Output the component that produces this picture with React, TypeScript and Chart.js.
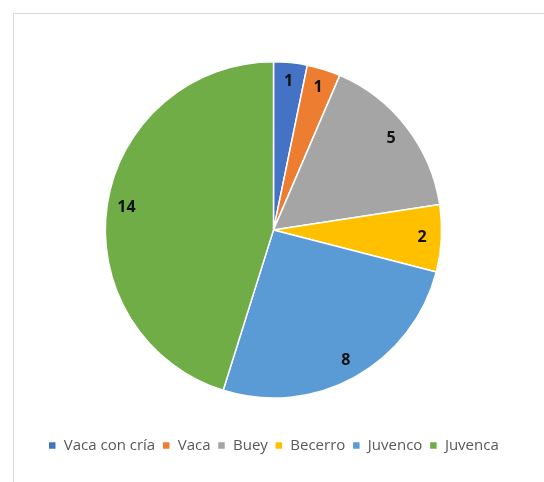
import React, { useEffect, useRef } from "react";
import { Chart, registerables } from "chart.js";

Chart.register(...registerables);

const categories = ["Vaca con cría", "Vaca", "Buey", "Becerro", "Juvenco", "Juvenca"];
const counts = [1, 1, 5, 2, 8, 14];
const colors = ["#4472C4", "#ED7D31", "#A5A5A5", "#FFC000", "#5B9BD5", "#70AD47"];

const sliceLabels = {
  id: "sliceLabels",
  afterDatasetsDraw(chart: any) {
    const ctx = chart.ctx;
    const meta = chart.getDatasetMeta(0);
    ctx.save();
    ctx.font = "bold 16px 'Open Sans', sans-serif";
    ctx.fillStyle = "#111111";
    ctx.textAlign = "center";
    ctx.textBaseline = "middle";
    meta.data.forEach((arc: any, i: number) => {
      const p = arc.getProps(["x", "y", "startAngle", "endAngle", "outerRadius"], true);
      const mid = (p.startAngle + p.endAngle) / 2;
      const r = p.outerRadius * 0.885;
      ctx.fillText(String(chart.data.datasets[0].data[i]), p.x + Math.cos(mid) * r, p.y + Math.sin(mid) * r);
    });
    ctx.restore();
  },
};

export default function App() {
  const ref = useRef<HTMLCanvasElement | null>(null);
  useEffect(() => {
    if (!ref.current) return;
    const chart = new Chart(ref.current, {
      type: "pie",
      data: {
        labels: categories,
        datasets: [
          {
            data: counts,
            backgroundColor: colors,
            borderColor: "#ffffff",
            borderWidth: 1.5,
          },
        ],
      },
      options: {
        responsive: false,
        animation: false,
        layout: { padding: { top: 61, left: 20, right: 17, bottom: 19 } },
        plugins: {
          tooltip: { enabled: false },
          legend: {
            position: "bottom",
            title: {
              display: true,
              text: " ",
              font: { size: 1 },
              padding: { top: 31, bottom: 0 },
            },
            labels: {
              boxWidth: 8,
              boxHeight: 8,
              padding: 7,
              color: "#595959",
              font: { family: "'Open Sans', sans-serif", size: 15 },
            },
          },
        },
      },
      plugins: [sliceLabels],
    });
    return () => chart.destroy();
  }, []);
  return (
    <>
      <div
        style={{
          position: "absolute",
          left: 13,
          top: 13,
          width: 531,
          height: 469,
          boxSizing: "border-box",
          borderTop: "1px solid #d9d9d9",
          borderLeft: "1px solid #d9d9d9",
        }}
      />
      <canvas
        ref={ref}
        width={544}
        height={482}
        style={{ position: "absolute", left: 0, top: 0, width: 544, height: 482 }}
      />
    </>
  );
}
